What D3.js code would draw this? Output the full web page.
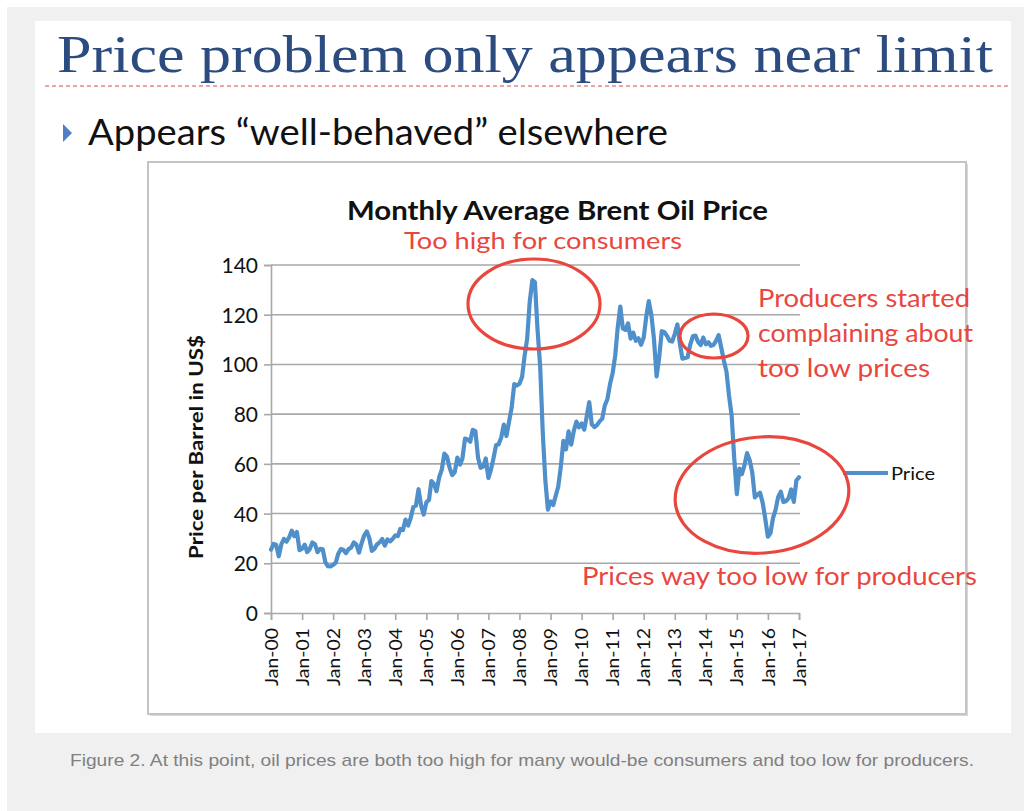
<!DOCTYPE html>
<html>
<head>
<meta charset="utf-8">
<script src="https://cdn.jsdelivr.net/npm/d3@7"></script>
<style>
  html, body { margin: 0; padding: 0; background: #ffffff; }
  svg { display: block; }
</style>
</head>
<body>
<svg id="chart" width="1024" height="811"></svg>
<script>
// ---------------- DATA ----------------
const startDate = new Date(2000, 0, 1);
// Monthly average Brent price (US$/bbl), Jan-2000 .. Jan-2017
const brentPrice = [
  // 2000
  25.5, 27.8, 27.5, 22.8, 27.6, 29.8, 28.7, 30.4, 33.1, 30.9, 32.6, 25.3,
  // 2001
  25.9, 27.5, 24.5, 25.7, 28.4, 27.7, 24.5, 25.8, 25.6, 20.5, 18.8, 18.7,
  // 2002
  19.4, 20.3, 23.7, 25.7, 25.4, 24.1, 25.7, 26.3, 28.4, 27.5, 24.3, 28.0,
  // 2003
  31.2, 32.8, 30.3, 25.0, 25.8, 27.6, 28.4, 29.8, 27.1, 29.6, 28.8, 29.8,
  // 2004
  31.2, 30.9, 33.8, 33.4, 37.6, 35.2, 38.2, 42.7, 43.2, 49.8, 43.1, 39.6,
  // 2005
  44.5, 45.5, 53.1, 51.9, 49.0, 54.6, 57.6, 64.1, 62.9, 58.5, 55.5, 56.7,
  // 2006
  62.5, 59.7, 62.1, 70.2, 69.8, 68.9, 73.7, 73.2, 62.5, 58.4, 58.9, 62.2,
  // 2007
  54.3, 57.8, 62.1, 67.5, 67.9, 70.6, 75.8, 71.2, 77.0, 82.5, 92.1, 91.5,
  // 2008
  92.2, 94.9, 103.3, 110.4, 125.2, 133.9, 133.1, 113.9, 99.1, 72.8, 53.2, 41.6,
  // 2009
  44.9, 43.4, 47.0, 50.8, 58.6, 69.3, 65.8, 73.1, 67.7, 73.2, 77.0, 74.7,
  // 2010
  76.2, 73.8, 78.8, 84.8, 75.9, 74.8, 75.6, 77.1, 78.2, 83.5, 86.1, 92.0,
  // 2011
  96.5, 103.7, 114.6, 123.3, 114.5, 113.9, 116.5, 110.4, 112.8, 109.5, 110.5, 107.9,
  // 2012
  110.7, 119.3, 125.5, 119.8, 110.3, 95.2, 102.6, 113.4, 113.0, 111.5, 109.5, 109.2,
  // 2013
  112.3, 116.1, 108.5, 102.3, 102.6, 102.9, 107.9, 111.3, 111.6, 109.1, 107.8, 110.8,
  // 2014
  108.1, 108.9, 107.5, 107.8, 109.5, 111.8, 106.8, 101.6, 97.1, 87.4, 79.4, 62.3,
  // 2015
  47.8, 58.1, 55.9, 59.5, 64.3, 61.5, 56.6, 46.5, 47.6, 48.4, 44.3, 38.0,
  // 2016
  30.7, 32.2, 38.2, 41.6, 46.7, 48.8, 44.7, 45.0, 46.2, 49.7, 44.7, 53.3,
  // 2017
  54.6
];
const yTicks = [0, 20, 40, 60, 80, 100, 120, 140];
const xTickYears = d3.range(2000, 2018);
const seriesName = "Price";

const slideTitle = "Price problem only appears near limit";
const bulletText = "Appears \u201Cwell-behaved\u201D elsewhere";
const chartTitle = "Monthly Average Brent Oil Price";
const yAxisTitle = "Price per Barrel in US$";
const noteHigh = "Too high for consumers";
const noteProducers = ["Producers started", "complaining about", "too low prices"];
const noteLow = "Prices way too low for producers";
const caption = "Figure 2. At this point, oil prices are both too high for many would-be consumers and too low for producers.";

// ---------------- DRAW ----------------
const svg = d3.select("#chart");
const red = "#e9463d";
const blue = "#4f8fca";
const grid = "#a8a8a8";

// backgrounds
svg.append("rect").attr("x", 7).attr("y", 7).attr("width", 1017).attr("height", 804).attr("fill", "#f0f0f0");
svg.append("rect").attr("x", 35).attr("y", 21).attr("width", 976).attr("height", 712).attr("fill", "#ffffff");

// slide title
svg.append("text").text(slideTitle)
  .attr("x", 57).attr("y", 72)
  .attr("font-family", "Liberation Serif, DejaVu Serif, serif")
  .attr("font-size", 52)
  .attr("fill", "#2c4c80")
  .attr("textLength", 936).attr("lengthAdjust", "spacingAndGlyphs");

// dotted separator
svg.append("line").attr("x1", 45).attr("x2", 1010).attr("y1", 86).attr("y2", 86)
  .attr("stroke", "#eaa6a6").attr("stroke-width", 2).attr("stroke-dasharray", "4,3");

// bullet
svg.append("path").attr("d", "M63,124 L72,133 L63,142 Z").attr("fill", "#4f7fc0");
svg.append("text").text(bulletText)
  .attr("x", 88).attr("y", 145)
  .attr("font-family", "Lato, Open Sans, sans-serif")
  .attr("font-size", 36)
  .attr("fill", "#111")
  .attr("textLength", 580).attr("lengthAdjust", "spacingAndGlyphs");

// chart box with light shadow
svg.append("rect").attr("x", 150).attr("y", 164).attr("width", 818).attr("height", 552)
  .attr("fill", "#d8d8d8");
svg.append("rect").attr("x", 148).attr("y", 162).attr("width", 818).attr("height", 552)
  .attr("fill", "#ffffff").attr("stroke", "#c4c4c4").attr("stroke-width", 2);

// scales
const x = d3.scaleTime().domain([new Date(2000, 0, 1), new Date(2017, 0, 1)]).range([271, 799]);
const y = d3.scaleLinear().domain([0, 140]).range([613, 265]);

const data = brentPrice.map((v, i) => ({ date: d3.timeMonth.offset(startDate, i), value: v }));

// gridlines
svg.append("g").selectAll("line").data(yTicks.filter(d => d > 0)).join("line")
  .attr("x1", x.range()[0]).attr("x2", x.range()[1] + 1)
  .attr("y1", d => y(d)).attr("y2", d => y(d))
  .attr("stroke", grid).attr("stroke-width", 1.6);

// y axis
const yAxis = svg.append("g").attr("transform", `translate(${x.range()[0]},0)`)
  .call(d3.axisLeft(y).tickValues(yTicks).tickSize(7).tickPadding(6).tickFormat(d3.format("d")));
yAxis.select(".domain").attr("stroke", grid).attr("stroke-width", 1.6);
yAxis.selectAll(".tick line").attr("stroke", grid).attr("stroke-width", 1.6);
yAxis.selectAll(".tick text")
  .attr("font-family", "Lato, Open Sans, sans-serif")
  .attr("font-size", 21).attr("fill", "#111").attr("dy", "0.36em");

// x axis
const xAxis = svg.append("g").attr("transform", `translate(0,${y(0)})`)
  .call(d3.axisBottom(x).tickValues(xTickYears.map(yr => new Date(yr, 0, 1)))
    .tickSize(7).tickFormat(d3.timeFormat("Jan-%y")));
xAxis.select(".domain").attr("stroke", grid).attr("stroke-width", 1.6);
xAxis.selectAll(".tick line").attr("stroke", grid).attr("stroke-width", 1.6);
xAxis.selectAll(".tick text")
  .attr("font-family", "Lato, Open Sans, sans-serif")
  .attr("font-size", 17).attr("fill", "#111")
  .attr("text-anchor", "end")
  .attr("transform", "rotate(-90)")
  .attr("x", -15).attr("y", 0).attr("dy", "0.36em")
  .attr("textLength", 58).attr("lengthAdjust", "spacingAndGlyphs");

// series line
svg.append("path").datum(data)
  .attr("fill", "none").attr("stroke", blue).attr("stroke-width", 4.2)
  .attr("stroke-linejoin", "round").attr("stroke-linecap", "round")
  .attr("d", d3.line().x(d => x(d.date)).y(d => y(d.value)));

// chart title
svg.append("text").text(chartTitle)
  .attr("x", 347).attr("y", 220)
  .attr("font-family", "Lato, Open Sans, sans-serif").attr("font-weight", "bold")
  .attr("font-size", 27).attr("fill", "#111")
  .attr("textLength", 421).attr("lengthAdjust", "spacingAndGlyphs");

// y axis title
svg.append("text").text(yAxisTitle)
  .attr("transform", "translate(203,447) rotate(-90)")
  .attr("text-anchor", "middle")
  .attr("font-family", "Lato, Open Sans, sans-serif").attr("font-weight", "bold")
  .attr("font-size", 18).attr("fill", "#111")
  .attr("textLength", 224).attr("lengthAdjust", "spacingAndGlyphs");

// legend
svg.append("line").attr("x1", 843).attr("x2", 888).attr("y1", 473).attr("y2", 473)
  .attr("stroke", blue).attr("stroke-width", 4);
svg.append("text").text(seriesName)
  .attr("x", 891).attr("y", 480)
  .attr("font-family", "Lato, Open Sans, sans-serif")
  .attr("font-size", 18).attr("fill", "#111")
  .attr("textLength", 44).attr("lengthAdjust", "spacingAndGlyphs");

// ellipses
const ell = svg.append("g").attr("fill", "none").attr("stroke", red).attr("stroke-width", 3.2);
ell.append("ellipse").attr("cx", 534).attr("cy", 304).attr("rx", 66).attr("ry", 45);
ell.append("ellipse").attr("cx", 714).attr("cy", 336).attr("rx", 34).attr("ry", 22);
ell.append("ellipse").attr("cx", 762).attr("cy", 495).attr("rx", 87).attr("ry", 58)
  .attr("transform", "rotate(-5,762,495)");

// annotations
const annoFont = "Lato, Open Sans, sans-serif";
svg.append("text").text(noteHigh)
  .attr("x", 404).attr("y", 249)
  .attr("font-family", annoFont).attr("font-size", 23).attr("fill", red)
  .attr("textLength", 278).attr("lengthAdjust", "spacingAndGlyphs");

const prodLens = [212, 215, 172];
svg.append("g").selectAll("text").data(noteProducers).join("text")
  .text(d => d)
  .attr("x", 758).attr("y", (d, i) => 307 + i * 35)
  .attr("font-family", annoFont).attr("font-size", 25).attr("fill", red)
  .attr("textLength", (d, i) => prodLens[i]).attr("lengthAdjust", "spacingAndGlyphs");

svg.append("text").text(noteLow)
  .attr("x", 582).attr("y", 585)
  .attr("font-family", annoFont).attr("font-size", 25).attr("fill", red)
  .attr("textLength", 395).attr("lengthAdjust", "spacingAndGlyphs");

// caption
svg.append("text").text(caption)
  .attr("x", 70).attr("y", 766)
  .attr("font-family", "Liberation Sans, Arial, sans-serif")
  .attr("font-size", 17).attr("fill", "#808080")
  .attr("textLength", 904).attr("lengthAdjust", "spacingAndGlyphs");
</script>
</body>
</html>
